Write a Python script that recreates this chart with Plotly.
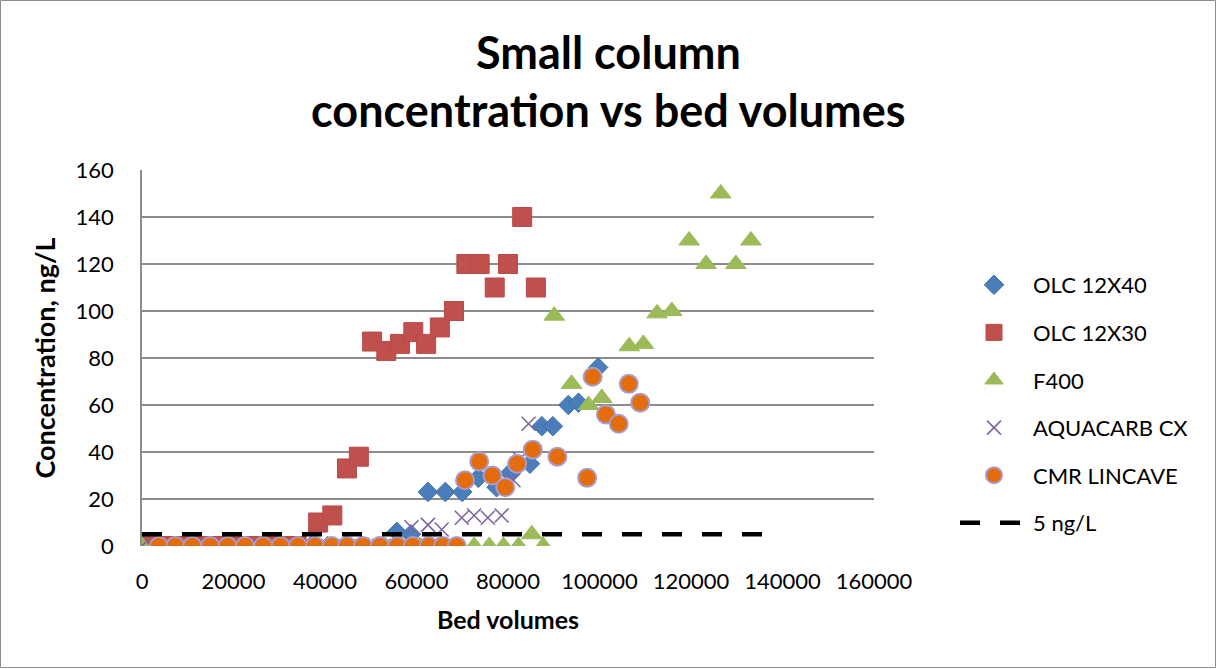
import plotly.graph_objects as go

# Bed volumes (x) and concentration in ng/L (y) for each carbon
olc40_x = [0, 3600, 7300, 11000, 14700, 18400, 22100, 25800, 29500, 33200, 36900, 40600,
           44300, 48000, 51700, 55700, 58800, 62500, 66300, 70000, 73500, 77500, 80400,
           84800, 87400, 89800, 93200, 95400, 99700]
olc40_y = [0, 0, 0, 0, 0, 0, 0, 0, 0, 0, 0, 0,
           0, 0, 0, 6, 5, 23, 23, 23, 29, 25, 31,
           35, 51, 51, 60, 61, 76]

olc30_x = [0, 3300, 6700, 10100, 13500, 16900, 20300, 23700, 27000, 30400, 33800,
           38500, 41600, 44800, 47400, 50300, 53400, 56400, 59300, 62100, 65100, 68200,
           70900, 73800, 77100, 80000, 83100, 86100]
olc30_y = [0, 0, 0, 0, 0, 0, 0, 0, 0, 0, 0,
           10, 13, 33, 38, 87, 83, 86, 91, 86, 93, 100,
           120, 120, 110, 120, 140, 110]

f400_x = [0, 3800, 7600, 11400, 15200, 19000, 22800, 26600, 30400, 34200, 38000, 41800,
          45600, 49400, 53200, 57000, 60800, 64600, 68400, 72600, 75900, 79000, 82300,
          85200, 87700, 90100, 93900, 97600, 100500, 106500, 109600, 112600, 115800,
          119600, 123300, 126500, 129800, 133100]
f400_y = [0, 0, 0, 0, 0, 0, 0, 0, 0, 0, 0, 0,
          0, 0, 0, 0, 0, 0, 0, 0, 0, 0, 0,
          5, 0, 98, 69, 60, 63, 85, 86, 99, 100,
          130, 120, 150, 120, 130]

aqua_x = [0, 3700, 7400, 11100, 14800, 18500, 22200, 25900, 29600, 33300, 37000, 40700,
          44400, 48100, 51800, 55500, 58900, 62500, 65500, 69900, 72600, 75600, 78600,
          81200, 82600, 84500]
aqua_y = [0, 0, 0, 0, 0, 0, 0, 0, 0, 0, 0, 0,
          0, 0, 0, 0, 8, 9, 7, 12, 13, 12, 13,
          28, 37, 52]

cmr_x = [3700, 7300, 11000, 14900, 18700, 22500, 26500, 30300, 34100, 37800, 41500,
         44800, 48300, 52000, 55800, 59200, 62700, 65800, 68800,
         70600, 73700, 76600, 79400, 82000, 85400, 90800, 97300, 98500, 101400,
         104200, 106400, 108900]
cmr_y = [0, 0, 0, 0, 0, 0, 0, 0, 0, 0, 0,
         0, 0, 0, 0, 0, 0, 0, 0,
         28, 36, 30, 25, 35, 41, 38, 29, 72, 56,
         52, 69, 61]

limit_x = [0, 137000]
limit_y = [5, 5]

title_lines = ["Small column", "concentration vs bed volumes"]

FONT = "Lato"
ML, MR, MT, MB = 142, 343, 170, 123
W, H = 1217, 669
plot_w = W - ML - MR
plot_h = H - MT - MB


def py_to_paper(py):
    """Pixel row in the figure -> paper y coordinate."""
    return (H - MB - py) / plot_h


fig = go.Figure()

fig.add_trace(go.Scatter(
    x=olc40_x, y=olc40_y, mode="markers", name="OLC 12X40",
    marker=dict(symbol="diamond", size=15, color="#4A7EBB",
                line=dict(color="#3F6FA8", width=1)),
    legendgroup="a"))
fig.add_trace(go.Scatter(
    x=olc30_x, y=olc30_y, mode="markers", name="OLC 12X30",
    marker=dict(symbol="square", size=19, color="#C0504D",
                line=dict(color="#B94A48", width=1)),
    legendgroup="b"))
fig.add_trace(go.Scatter(
    x=f400_x, y=f400_y, mode="markers", name="F400",
    marker=dict(symbol="triangle-up", size=18, color="#9BBB59",
                line=dict(color="#9BBB59", width=1)),
    legendgroup="c"))
fig.add_trace(go.Scatter(
    x=aqua_x, y=aqua_y, mode="markers", name="AQUACARB CX",
    marker=dict(symbol="x-thin", size=14, color="#8064A2",
                line=dict(color="#8064A2", width=1.6)),
    legendgroup="d"))
fig.add_trace(go.Scatter(
    x=cmr_x, y=cmr_y, mode="markers", name="CMR LINCAVE",
    marker=dict(symbol="circle", size=18, color="#E46C0A",
                line=dict(color="#A99BCB", width=2)),
    legendgroup="e"))
fig.add_trace(go.Scatter(
    x=limit_x, y=limit_y, mode="lines", name="5 ng/L",
    line=dict(color="black", width=4.5, dash="20px,20px"),
    legendgroup="f"))

fig.update_layout(
    width=W, height=H,
    margin=dict(l=ML, r=MR, t=MT, b=MB, autoexpand=False),
    paper_bgcolor="white", plot_bgcolor="white",
    font=dict(family=FONT, color="black"),
    xaxis=dict(
        range=[0, 160000], tickvals=[0, 20000, 40000, 60000, 80000, 100000, 120000, 140000, 160000],
        ticktext=["0", "20000", "40000", "60000", "80000", "100000", "120000", "140000", "160000"],
        showgrid=False, zeroline=False, showline=False, ticks="",
        tickfont=dict(family=FONT, size=22, color="black"), ticklabelstandoff=20,
        title=dict(text="<b>Bed volumes</b>", font=dict(family=FONT, size=25, color="black"),
                   standoff=18)),
    yaxis=dict(
        range=[0, 160], tickvals=[0, 20, 40, 60, 80, 100, 120, 140, 160],
        showgrid=True, gridcolor="#8C8C8C", gridwidth=1.5,
        zeroline=False, showline=True, linecolor="#8C8C8C", linewidth=1.5, ticks="",
        tickfont=dict(family=FONT, size=22, color="black"), ticklabelstandoff=22,
        title=dict(text="<b>Concentration, ng/L</b>", font=dict(family=FONT, size=27, color="black"),
                   standoff=12)),
    legend=dict(
        x=(955 - ML) / plot_w, y=py_to_paper(404), xanchor="left", yanchor="middle",
        font=dict(family=FONT, size=22, color="black"), itemwidth=68,
        tracegroupgap=16, traceorder="grouped", bgcolor="rgba(0,0,0,0)"),
    showlegend=True,
)

# Two-line bold chart title
for text, py in zip(title_lines, [52, 110]):
    fig.add_annotation(text=f"<b>{text}</b>", xref="paper", yref="paper",
                       x=(W / 2 - ML) / plot_w, y=py_to_paper(py),
                       xanchor="center", yanchor="middle", showarrow=False,
                       font=dict(family=FONT, size=45, color="black"))

# Chart-area border around the whole figure
fig.add_shape(type="rect", xref="paper", yref="paper",
              x0=-(ML - 0.5) / plot_w, x1=1 + (MR - 1.5) / plot_w,
              y0=-(MB - 1.5) / plot_h, y1=1 + (MT - 0.5) / plot_h,
              line=dict(color="#8C8C8C", width=1), fillcolor="rgba(0,0,0,0)", layer="below")

fig.write_html("out.html")
